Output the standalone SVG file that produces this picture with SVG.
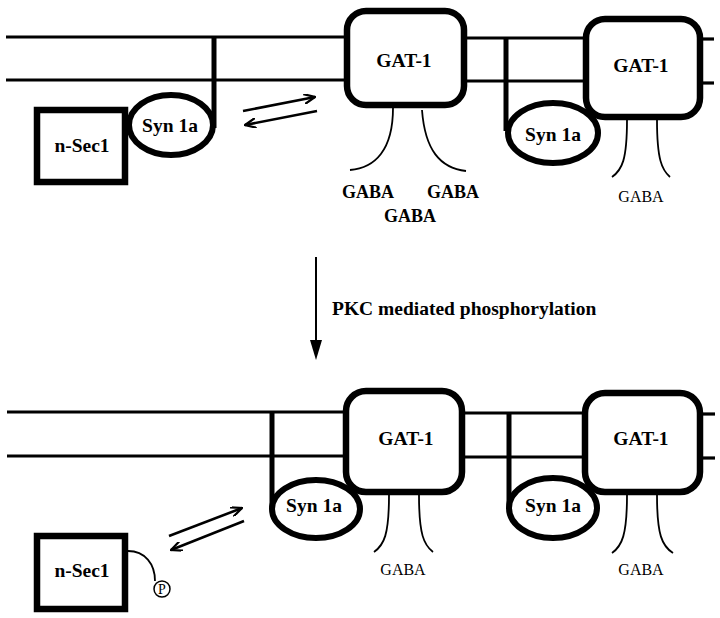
<svg xmlns="http://www.w3.org/2000/svg" width="720" height="618" viewBox="0 0 720 618">
<style>
.mem{stroke:#000;stroke-width:3.2;fill:none}
.tether{stroke:#000;stroke-width:5;fill:none}
.box{stroke:#000;stroke-width:6.5;fill:#fff}
.syn{stroke:#000;stroke-width:6;fill:#fff}
.thin{stroke:#000;stroke-width:1.8;fill:none}
.arr{stroke:#000;stroke-width:2.5;fill:none}
.lb{font-family:"Liberation Serif","Times New Roman",serif;font-weight:bold;font-size:19.5px;fill:#000;text-anchor:middle}
.gb{font-family:"Liberation Serif","Times New Roman",serif;font-weight:bold;font-size:18px;fill:#000;text-anchor:middle}
.gr{font-family:"Liberation Serif","Times New Roman",serif;font-size:16px;fill:#000;text-anchor:middle}
</style>
<defs>
<marker id="openV" viewBox="0 0 12 10" refX="11" refY="5" markerWidth="12" markerHeight="10" markerUnits="userSpaceOnUse" orient="auto">
<path d="M0,0 L11,5 L0,10" fill="none" stroke="#000" stroke-width="2.2"/>
</marker>
</defs>

<g id="membranes">
<line class="mem" x1="6" y1="37" x2="347" y2="37"/>
<line class="mem" x1="6" y1="80" x2="347" y2="80"/>
<line class="mem" x1="464" y1="38" x2="586" y2="38"/>
<line class="mem" x1="464" y1="81" x2="586" y2="81"/>
<line class="mem" x1="700" y1="39" x2="714" y2="39"/>
<line class="mem" x1="700" y1="83" x2="714" y2="83"/>
<line class="mem" x1="7" y1="412" x2="346" y2="412"/>
<line class="mem" x1="7" y1="456" x2="346" y2="456"/>
<line class="mem" x1="462" y1="413" x2="585" y2="413"/>
<line class="mem" x1="462" y1="457" x2="585" y2="457"/>
<line class="mem" x1="700" y1="414" x2="715" y2="414"/>
<line class="mem" x1="700" y1="458" x2="715" y2="458"/>
</g>

<g id="connectors">
<line class="arr" x1="243" y1="111" x2="315" y2="97" marker-end="url(#openV)"/>
<line class="arr" x1="317" y1="111" x2="245" y2="125" marker-end="url(#openV)"/>
<line class="arr" x1="169" y1="536" x2="242" y2="508" marker-end="url(#openV)"/>
<line class="arr" x1="244" y1="521" x2="171" y2="550" marker-end="url(#openV)"/>
<line x1="316" y1="257" x2="316" y2="342" stroke="#000" stroke-width="2"/>
<path d="M310,340 L322,340 L316,360 Z" fill="#000"/>
</g>

<g id="pkc-label">
<text class="lb" x="332" y="315" style="text-anchor:start">PKC mediated phosphorylation</text>
</g>

<g id="top-nsec1">
<rect class="box" x="37" y="110" width="88" height="72"/>
<text class="lb" x="82" y="152">n-Sec1</text>
</g>
<g id="top-syn1a-left">
<line class="tether" x1="214" y1="36" x2="214" y2="128"/>
<ellipse class="syn" cx="171" cy="125" rx="42" ry="30"/>
<text class="lb" x="170" y="132">Syn 1a</text>
</g>
<g id="top-gat1-left">
<rect class="box" x="347" y="11" width="117" height="94" rx="19"/>
<text class="lb" x="404" y="67">GAT-1</text>
<path class="thin" d="M393,108 C393,150 375,168 350,170"/>
<path class="thin" d="M422,110 C425,150 440,168 466,171"/>
<text class="gb" x="368" y="198">GABA</text>
<text class="gb" x="453" y="198">GABA</text>
<text class="gb" x="410" y="222">GABA</text>
</g>
<g id="top-syn1a-mid">
<line class="tether" x1="506" y1="37" x2="506" y2="131"/>
<ellipse class="syn" cx="553" cy="133" rx="45" ry="30"/>
<text class="lb" x="553" y="141">Syn 1a</text>
</g>
<g id="top-gat1-right">
<rect class="box" x="586" y="19" width="114" height="98" rx="19"/>
<text class="lb" x="641" y="72">GAT-1</text>
<path class="thin" d="M627,120 C627,160 622,170 612,177"/>
<path class="thin" d="M657,120 C657,160 662,170 670,177"/>
<text class="gr" x="641" y="202">GABA</text>
</g>

<g id="bottom-nsec1">
<rect class="box" x="37" y="536" width="88" height="73"/>
<text class="lb" x="82" y="577">n-Sec1</text>
<path class="thin" d="M128,551 C145,551 155,564 155,581"/>
<circle cx="162" cy="589" r="8" fill="#fff" stroke="#000" stroke-width="1.5"/>
<text x="162" y="594" style="font-family:'Liberation Serif','Times New Roman',serif;font-size:14px;text-anchor:middle">P</text>
</g>
<g id="bottom-syn1a-left">
<line class="tether" x1="272" y1="411" x2="272" y2="508"/>
<ellipse class="syn" cx="316" cy="509" rx="44" ry="29"/>
<text class="lb" x="314" y="512">Syn 1a</text>
</g>
<g id="bottom-gat1-left">
<rect class="box" x="346" y="391" width="116" height="101" rx="20"/>
<text class="lb" x="406" y="445">GAT-1</text>
<path class="thin" d="M389,495 C389,535 384,545 374,552"/>
<path class="thin" d="M419,495 C419,535 424,545 433,552"/>
<text class="gr" x="403" y="575">GABA</text>
</g>
<g id="bottom-syn1a-mid">
<line class="tether" x1="509" y1="412" x2="509" y2="507"/>
<ellipse class="syn" cx="553" cy="508" rx="44" ry="30"/>
<text class="lb" x="553" y="512">Syn 1a</text>
</g>
<g id="bottom-gat1-right">
<rect class="box" x="585" y="393" width="115" height="99" rx="20"/>
<text class="lb" x="641" y="445">GAT-1</text>
<path class="thin" d="M627,495 C627,535 622,546 612,553"/>
<path class="thin" d="M657,495 C657,535 662,546 673,553"/>
<text class="gr" x="641" y="575">GABA</text>
</g>
</svg>
